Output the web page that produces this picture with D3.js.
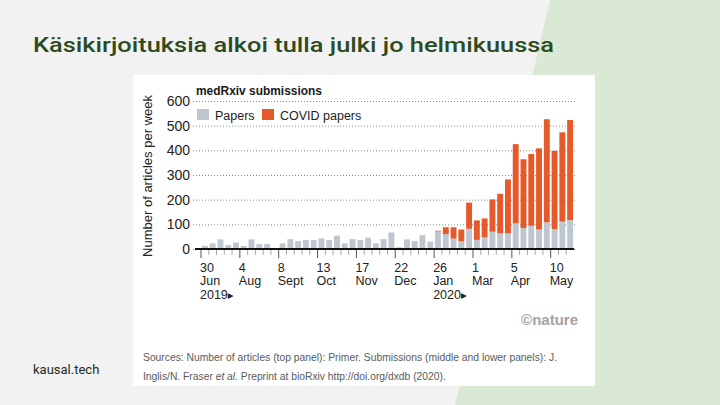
<!DOCTYPE html>
<html>
<head>
<meta charset="utf-8">
<script src="https://cdn.jsdelivr.net/npm/d3@7"></script>
<style>
	body { margin: 0; background: #f2f2f2; }
	svg { display: block; font-family: "Liberation Sans", Arial, sans-serif; }
</style>
</head>
<body>
<div id="slide"></div>
<script>
// weekly medRxiv submissions
var papers = [13, 23, 39, 16, 26, 12, 39, 20, 20, 0,
	23, 40, 32, 37, 36, 43, 36, 54, 23, 40,
	36, 46, 23, 40, 67, 7, 39, 32, 56, 30,
	71, 60, 42, 31, 82, 37, 47, 70, 63, 63,
	104, 85, 94, 79, 108, 81, 111, 117];
var covid = [0, 0, 0, 0, 0, 0, 0, 0, 0, 0,
	0, 0, 0, 0, 0, 0, 0, 0, 0, 0,
	0, 0, 0, 0, 0, 0, 0, 0, 0, 0,
	3, 28, 46, 48, 106, 79, 77, 131, 161, 219,
	321, 279, 291, 329, 418, 317, 362, 406];
var seriesKeys = ["papers", "covid"];
var seriesNames = ["Papers", "COVID papers"];
var yTicks = [0, 100, 200, 300, 400, 500, 600];
var tickDates = ["2019-06-30", "2019-08-04", "2019-09-08", "2019-10-13", "2019-11-17",
	"2019-12-22", "2020-01-26", "2020-03-01", "2020-04-05", "2020-05-10"];
var tickDays = ["30", "4", "8", "13", "17", "22", "26", "1", "5", "10"];
var tickMonths = ["Jun", "Aug", "Sept", "Oct", "Nov", "Dec", "Jan", "Mar", "Apr", "May"];
var tickYears = ["2019", "", "", "", "", "", "2020", "", "", ""];

var colors = { papers: "#bec7d0", covid: "#e5592a" };

var weeks = d3.utcSunday.range(Date.UTC(2019, 5, 30), Date.UTC(2020, 4, 31));
var fmt = d3.utcFormat("%Y-%m-%d");
var rows = weeks.map(function (w, i) {
	return { week: fmt(w), papers: papers[i], covid: covid[i] };
});

var svg = d3.select("#slide").append("svg")
	.attr("width", 720)
	.attr("height", 405);

/* slide background */
svg.append("rect").attr("width", 720).attr("height", 405).attr("fill", "#f2f2f2");
svg.append("path").attr("d", "M550,0 L720,0 L720,405 L455,405 Z").attr("fill", "#d9e9d3");

svg.append("text")
	.attr("x", 33).attr("y", 52)
	.attr("font-family", "Roboto, sans-serif")
	.attr("font-weight", 500)
	.attr("font-size", 20)
	.attr("textLength", 521)
	.attr("lengthAdjust", "spacingAndGlyphs")
	.attr("fill", "#2d4b20")
	.text("Käsikirjoituksia alkoi tulla julki jo helmikuussa");

svg.append("text")
	.attr("x", 33).attr("y", 374)
	.attr("font-family", "Roboto, sans-serif")
	.attr("font-size", 13)
	.attr("fill", "#1f2a1a")
	.text("kausal.tech");

/* the figure card */
svg.append("rect")
	.attr("x", 133).attr("y", 75)
	.attr("width", 462).attr("height", 311)
	.attr("fill", "#ffffff");

var x = d3.scaleBand()
	.domain(d3.range(rows.length))
	.range([201, 574])
	.paddingInner(0.24)
	.paddingOuter(0.12);
var y = d3.scaleLinear().domain([0, 600]).range([249, 101]);

var gapHalf = x.step() * x.paddingInner() / 2;

/* grid + y labels */
var yAxis = svg.append("g")
	.attr("transform", "translate(193,0)")
	.call(d3.axisLeft(y).tickValues(yTicks).tickSize(-382).tickPadding(3));
yAxis.select(".domain").remove();
yAxis.selectAll(".tick line")
	.attr("stroke", "#8a8a8a")
	.attr("stroke-dasharray", "1,2");
yAxis.selectAll(".tick text")
	.attr("font-size", 14)
	.attr("fill", "#222")
	.attr("font-family", "Liberation Sans, Arial, sans-serif");

svg.append("text")
	.attr("transform", "translate(152,176) rotate(-90)")
	.attr("text-anchor", "middle")
	.attr("font-size", 13)
	.attr("fill", "#222")
	.text("Number of articles per week");

/* stacked bars */
var stack = d3.stack().keys(seriesKeys)(rows);
svg.append("g").selectAll("g")
	.data(stack)
	.join("g")
	.attr("fill", function (d) { return colors[d.key]; })
	.selectAll("rect")
	.data(function (d) { return d; })
	.join("rect")
	.attr("x", function (d, i) { return x(i); })
	.attr("width", x.bandwidth())
	.attr("y", function (d) { return y(d[1]); })
	.attr("height", function (d) { return y(d[0]) - y(d[1]); });

/* x axis: weekly ticks, long ones at the labelled weeks */
var labelIdx = tickDates.map(function (t) {
	return rows.findIndex(function (r) { return r.week === t; });
});
var tickG = svg.append("g");
tickG.selectAll("line")
	.data(d3.range(rows.length))
	.join("line")
	.attr("x1", function (i) { return x(i) - gapHalf; })
	.attr("x2", function (i) { return x(i) - gapHalf; })
	.attr("y1", 250)
	.attr("y2", function (i) { return labelIdx.indexOf(i) >= 0 ? 258 : 255; })
	.attr("stroke", function (i) { return labelIdx.indexOf(i) >= 0 ? "#555" : "#aaa"; })
	.attr("stroke-width", 1);

svg.append("line")
	.attr("x1", 195).attr("x2", 574)
	.attr("y1", 249).attr("y2", 249)
	.attr("stroke", "#111")
	.attr("stroke-width", 2.2);

var lab = svg.append("g").selectAll("text")
	.data(labelIdx)
	.join("text")
	.attr("x", function (i) { return x(i) - gapHalf - 1; })
	.attr("font-size", 12.5)
	.attr("fill", "#222");
lab.append("tspan").attr("y", 272).text(function (i, k) { return tickDays[k]; });
lab.append("tspan")
	.attr("x", function (i) { return x(i) - gapHalf - 1; })
	.attr("y", 285)
	.text(function (i, k) { return tickMonths[k]; });
lab.filter(function (i, k) { return tickYears[k] !== ""; })
	.append("tspan")
	.attr("x", function (i) { return x(i) - gapHalf - 1; })
	.attr("y", 299)
	.text(function (i) { return tickYears[labelIdx.indexOf(i)]; })
	.append("tspan")
	.attr("font-family", "DejaVu Sans, sans-serif")
	.attr("font-size", 7.5)
	.attr("dy", -1)
	.text("\u25B6");

/* title + legend */
svg.append("text")
	.attr("x", 196).attr("y", 95)
	.attr("font-size", 12.5)
	.attr("font-weight", "bold")
	.attr("fill", "#1a1a1a")
	.attr("textLength", 126)
	.attr("lengthAdjust", "spacingAndGlyphs")
	.text("medRxiv submissions");

var legX = [197, 262];
var leg = svg.append("g").selectAll("g")
	.data(seriesKeys)
	.join("g")
	.attr("transform", function (d, i) { return "translate(" + legX[i] + ",109)"; });
leg.append("rect")
	.attr("width", 12).attr("height", 11)
	.attr("fill", function (d) { return colors[d]; });
leg.append("text")
	.attr("x", 18).attr("y", 10.5)
	.attr("font-size", 12.5)
	.attr("fill", "#222")
	.text(function (d, i) { return seriesNames[i]; });

/* credits */
svg.append("text")
	.attr("x", 578).attr("y", 325)
	.attr("text-anchor", "end")
	.attr("font-size", 15)
	.attr("font-weight", "bold")
	.attr("fill", "#a3a3a3")
	.text("\u00A9nature");

var src = svg.append("g")
	.attr("font-size", 10.3)
	.attr("fill", "#5a5a5a");
src.append("text")
	.attr("x", 143).attr("y", 361)
	.attr("textLength", 414)
	.attr("lengthAdjust", "spacing")
	.text("Sources: Number of articles (top panel): Primer. Submissions (middle and lower panels): J.");
var l2 = src.append("text").attr("x", 143).attr("y", 380);
l2.append("tspan").text("Inglis/N. Fraser ");
l2.append("tspan").attr("font-style", "italic").text("et al.");
l2.append("tspan").text(" Preprint at bioRxiv http://doi.org/dxdb (2020).");
</script>
</body>
</html>
